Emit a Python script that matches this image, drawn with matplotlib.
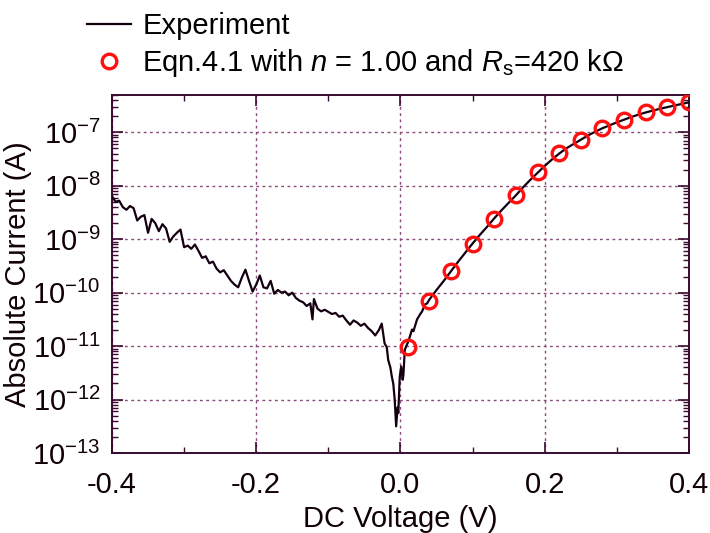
import matplotlib
matplotlib.use("Agg")
import matplotlib.pyplot as plt
import numpy as np
from matplotlib.ticker import LogLocator, MultipleLocator, NullFormatter, FixedLocator

plt.rcParams['font.family'] = ['Liberation Sans', 'DejaVu Sans']
plt.rcParams['mathtext.fontset'] = 'custom'
plt.rcParams['mathtext.rm'] = 'Liberation Sans'
plt.rcParams['mathtext.it'] = 'Liberation Sans:italic'
plt.rcParams['mathtext.bf'] = 'Liberation Sans:bold'
plt.rcParams['axes.unicode_minus'] = False

# ---------------- data ----------------
# Experiment: DC voltage (V) and log10 of absolute current (A)
exp_voltage = [
    -0.400, -0.395, -0.390, -0.385, -0.380, -0.375, -0.370, -0.365, -0.360, -0.355,
    -0.350, -0.345, -0.340, -0.335, -0.330, -0.325, -0.320, -0.315, -0.310, -0.305,
    -0.300, -0.295, -0.290, -0.285, -0.280, -0.275, -0.270, -0.265, -0.260, -0.255,
    -0.250, -0.245, -0.240, -0.235, -0.230, -0.225, -0.220, -0.215, -0.210, -0.205,
    -0.200, -0.195, -0.190, -0.185, -0.180, -0.175, -0.170, -0.165, -0.160, -0.155,
    -0.150, -0.145, -0.140, -0.135, -0.130, -0.125, -0.122, -0.120, -0.115, -0.110,
    -0.105, -0.100, -0.095, -0.090, -0.085, -0.080, -0.075, -0.070, -0.065, -0.060,
    -0.055, -0.050, -0.045, -0.040, -0.035, -0.030, -0.026, -0.022, -0.019, -0.017,
    -0.014, -0.012, -0.010, -0.008, -0.006, -0.004, -0.003, -0.001, 0.001, 0.003,
    0.004, 0.006, 0.008, 0.011, 0.013, 0.016, 0.018, 0.020, 0.023, 0.027,
    0.030, 0.034, 0.037, 0.040, 0.050, 0.060, 0.070, 0.080, 0.090, 0.100,
    0.110, 0.120, 0.130, 0.140, 0.150, 0.160, 0.170, 0.180, 0.190, 0.200,
    0.210, 0.220, 0.230, 0.240, 0.250, 0.260, 0.270, 0.280, 0.290, 0.300,
    0.310, 0.320, 0.330, 0.340, 0.350, 0.360, 0.370, 0.380, 0.390, 0.400,
]
exp_log10_current = [
    -8.20, -8.30, -8.28, -8.40, -8.45, -8.38, -8.42, -8.65, -8.58, -8.55,
    -8.88, -8.62, -8.70, -8.85, -8.72, -8.80, -9.05, -8.95, -8.88, -8.82,
    -9.15, -9.12, -9.18, -9.10, -9.22, -9.35, -9.32, -9.45, -9.42, -9.55,
    -9.62, -9.58, -9.68, -9.78, -9.85, -9.90, -9.72, -9.57, -9.78, -9.98,
    -9.85, -9.68, -9.90, -9.92, -9.78, -10.02, -9.95, -10.00, -9.98, -10.05,
    -10.00, -10.10, -10.15, -10.18, -10.25, -10.20, -10.50, -10.12, -10.30, -10.35,
    -10.32, -10.36, -10.40, -10.38, -10.45, -10.43, -10.52, -10.60, -10.52, -10.56,
    -10.62, -10.58, -10.66, -10.72, -10.80, -10.70, -10.58, -10.95, -11.02, -11.26,
    -11.40, -11.57, -11.70, -12.00, -12.50, -12.15, -12.25, -11.57, -11.38, -11.63,
    -11.55, -11.07, -11.00, -10.91, -10.82, -10.69, -10.72, -10.63, -10.50, -10.41,
    -10.35, -10.22, -10.20, -10.13, -9.95, -9.78, -9.60, -9.42, -9.25, -9.08,
    -8.92, -8.77, -8.61, -8.46, -8.32, -8.18, -8.03, -7.89, -7.76, -7.63,
    -7.51, -7.40, -7.30, -7.22, -7.14, -7.06, -6.99, -6.925, -6.87, -6.815,
    -6.765, -6.715, -6.67, -6.63, -6.595, -6.56, -6.53, -6.50, -6.47, -6.44,
]

# Eqn. 4.1 fit points
fit_voltage = [0.01, 0.04, 0.07, 0.10, 0.13, 0.16, 0.19, 0.22, 0.25, 0.28, 0.31, 0.34, 0.37, 0.40]
fit_log10_current = [-11.02, -10.16, -9.60, -9.085, -8.615, -8.18, -7.752, -7.39, -7.14,
                     -6.92, -6.766, -6.627, -6.533, -6.439]

x_ticks = [-0.4, -0.2, 0.0, 0.2, 0.4]
x_tick_labels = ["-0.4", "-0.2", "0.0", "0.2", "0.4"]
y_exponents = [-13, -12, -11, -10, -9, -8, -7]

exp_current = 10.0 ** np.array(exp_log10_current)
fit_current = 10.0 ** np.array(fit_log10_current)

# ---------------- figure ----------------
fig = plt.figure(figsize=(7.10, 5.33), dpi=100)
ax = fig.add_axes([0.1577, 0.150, 0.8127, 0.672])

spine_col = '#3a0a30'
grid_col = '#8a4a7a'
fs = 21

ax.plot(exp_voltage, exp_current, color='#140010', lw=1.6, label='Experiment', zorder=3)
ax.plot(fit_voltage, fit_current, linestyle='none', marker='o', ms=10.5, mfc='none',
        mec='#ff1010', mew=2.4, label=r'Eqn.4.1 with $n$ = 1.00 and $R_\mathrm{s}$=420 k$\Omega$',
        zorder=4)

ax.set_yscale('log')
ax.set_xlim(-0.4, 0.4)
ax.set_ylim(1e-13, 5e-7)

ax.xaxis.set_major_locator(FixedLocator(x_ticks))
ax.set_xticklabels(x_tick_labels)
ax.xaxis.set_minor_locator(MultipleLocator(0.1))
ax.yaxis.set_major_locator(FixedLocator([10.0 ** e for e in y_exponents]))
ax.set_yticklabels([r'$\mathdefault{10^{%d}}$' % e for e in y_exponents])
ax.yaxis.set_minor_locator(LogLocator(base=10, subs=np.arange(2, 10), numticks=30))
ax.yaxis.set_minor_formatter(NullFormatter())

ax.tick_params(which='both', direction='in', top=True, right=True, color=spine_col,
               labelsize=fs, labelcolor='#100008')
ax.tick_params(which='major', length=8, width=1.2)
ax.tick_params(which='minor', length=4, width=1.0)
ax.tick_params(axis='x', which='major', pad=13)
ax.tick_params(axis='y', which='major', pad=8)

for s in ax.spines.values():
    s.set_color(spine_col)
    s.set_linewidth(1.4)

ax.grid(True, which='major', linestyle=(0, (2, 2.5)), color=grid_col, lw=1.0)

ax.set_xlabel('DC Voltage (V)', fontsize=fs, color='#100008', labelpad=4)
ax.set_ylabel('Absolute Current (A)', fontsize=fs, color='#100008', labelpad=0)

fig.legend(loc='upper left', bbox_to_anchor=(0.098, 1.01), frameon=False, fontsize=fs,
           handlelength=1.5, handletextpad=0.4, labelspacing=0.25, borderaxespad=0.2)

fig.savefig('out.png', dpi=100)
